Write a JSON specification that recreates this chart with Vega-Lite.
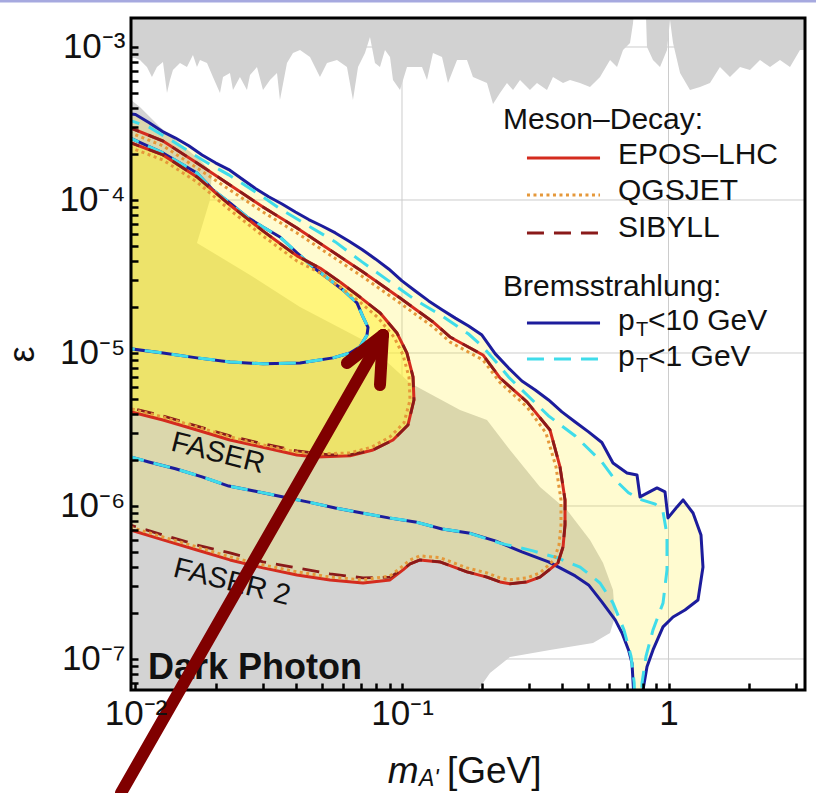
{
  "$schema": "https://vega.github.io/schema/vega-lite/v6.json",
  "width": 674,
  "height": 672,
  "autosize": "none",
  "padding": {"left": 131, "top": 18, "right": 11, "bottom": 103},
  "background": "white",
  "config": {"view": {"stroke": null}},
  "datasets": {
    "grid_y": [{"v": 1e-3}, {"v": 1e-4}, {"v": 1e-5}, {"v": 1e-6}, {"v": 1e-7}],
    "grid_x": [{"v": 0.1}, {"v": 1}],
    "gray_top": [
      {"x": 0.009, "y": 8.47e-4}, {"x": 0.009956, "y": 8.47e-4}, {"x": 0.01039, "y": 8.22e-4}, {"x": 0.01104, "y": 7.40e-4},
      {"x": 0.01153, "y": 6.36e-4}, {"x": 0.01204, "y": 7.40e-4}, {"x": 0.01268, "y": 7.98e-4}, {"x": 0.01313, "y": 5.0e-4},
      {"x": 0.01347, "y": 6.085e-4}, {"x": 0.01382, "y": 7.07e-4}, {"x": 0.01469, "y": 7.86e-4}, {"x": 0.0156, "y": 7.40e-4},
      {"x": 0.01643, "y": 8.87e-4}, {"x": 0.01701, "y": 7.40e-4}, {"x": 0.01746, "y": 8.22e-4}, {"x": 0.01855, "y": 7.86e-4},
      {"x": 0.01953, "y": 6.36e-4}, {"x": 0.02075, "y": 5.0e-4}, {"x": 0.0213, "y": 6.36e-4}, {"x": 0.02262, "y": 6.76e-4},
      {"x": 0.02322, "y": 5.235e-4}, {"x": 0.02466, "y": 6.36e-4}, {"x": 0.0262, "y": 5.235e-4}, {"x": 0.0269, "y": 6.56e-4},
      {"x": 0.02857, "y": 7.40e-4}, {"x": 0.03009, "y": 5.235e-4}, {"x": 0.03197, "y": 6.085e-4}, {"x": 0.03396, "y": 6.76e-4},
      {"x": 0.03484, "y": 4.504e-4}, {"x": 0.03702, "y": 7.86e-4}, {"x": 0.03899, "y": 9.14e-4}, {"x": 0.04143, "y": 9.56e-4},
      {"x": 0.04516, "y": 8.6e-4}, {"x": 0.04923, "y": 6.36e-4}, {"x": 0.05231, "y": 7.86e-4}, {"x": 0.05703, "y": 8.22e-4},
      {"x": 0.06216, "y": 7.40e-4}, {"x": 0.06547, "y": 4.504e-4}, {"x": 0.0684, "y": 7.40e-4}, {"x": 0.07263, "y": 9.14e-4},
      {"x": 0.07584, "y": 1.162e-3}, {"x": 0.07918, "y": 7.86e-4}, {"x": 0.08268, "y": 7.40e-4}, {"x": 0.08633, "y": 9.56e-4},
      {"x": 0.09016, "y": 8.6e-4}, {"x": 0.09252, "y": 6.085e-4}, {"x": 0.09829, "y": 5.235e-4}, {"x": 0.1044, "y": 7.40e-4},
      {"x": 0.1119, "y": 7.40e-4}, {"x": 0.1189, "y": 7.40e-4}, {"x": 0.1241, "y": 6.085e-4}, {"x": 0.1307, "y": 9.14e-4},
      {"x": 0.1413, "y": 8.6e-4}, {"x": 0.1488, "y": 5.82e-4}, {"x": 0.1609, "y": 8.22e-4}, {"x": 0.1753, "y": 8.22e-4},
      {"x": 0.1846, "y": 6.36e-4}, {"x": 0.2084, "y": 5.82e-4}, {"x": 0.2196, "y": 4.24e-4}, {"x": 0.2332, "y": 5.0e-4},
      {"x": 0.2477, "y": 5.82e-4}, {"x": 0.261, "y": 5.235e-4}, {"x": 0.2772, "y": 6.085e-4}, {"x": 0.3021, "y": 5.235e-4},
      {"x": 0.321, "y": 5.82e-4}, {"x": 0.35, "y": 5.235e-4}, {"x": 0.3686, "y": 6.36e-4}, {"x": 0.402, "y": 5.82e-4},
      {"x": 0.427, "y": 6.085e-4}, {"x": 0.4655, "y": 5.82e-4}, {"x": 0.5075, "y": 5.48e-4}, {"x": 0.5534, "y": 6.36e-4},
      {"x": 0.6034, "y": 8.22e-4}, {"x": 0.641, "y": 7.40e-4}, {"x": 0.6751, "y": 9.56e-4}, {"x": 0.7171, "y": 1.062e-3},
      {"x": 0.736, "y": 1.435e-3}, {"x": 0.7551, "y": 2.5e-3}, {"x": 0.8162, "y": 2.5e-3}, {"x": 0.8304, "y": 1.0e-3},
      {"x": 0.8746, "y": 8.22e-4}, {"x": 0.9292, "y": 7.40e-4}, {"x": 0.9871, "y": 9.56e-4}, {"x": 1.013, "y": 1.501e-3},
      {"x": 1.04, "y": 1.062e-3}, {"x": 1.105, "y": 6.76e-4}, {"x": 1.204, "y": 5.235e-4}, {"x": 1.313, "y": 5.48e-4},
      {"x": 1.431, "y": 5.82e-4}, {"x": 1.56, "y": 7.40e-4}, {"x": 1.701, "y": 6.36e-4}, {"x": 1.855, "y": 7.40e-4},
      {"x": 2.022, "y": 7.07e-4}, {"x": 2.204, "y": 8.22e-4}, {"x": 2.404, "y": 7.40e-4}, {"x": 2.62, "y": 8.22e-4},
      {"x": 2.857, "y": 7.40e-4}, {"x": 3.114, "y": 9.56e-4}, {"x": 3.4, "y": 9.56e-4}
    ],
    "gray_low": [
      {"x": 0.009, "y": 4.504e-4}, {"x": 0.009619, "y": 4.504e-4}, {"x": 0.01039, "y": 4.05e-4}, {"x": 0.01235, "y": 3.0e-4},
      {"x": 0.01746, "y": 1.826e-4}, {"x": 0.01936, "y": 1.52e-4}, {"x": 0.01903, "y": 1.0e-4}, {"x": 0.01701, "y": 5.24e-5},
      {"x": 0.0269, "y": 3.235e-5}, {"x": 0.04143, "y": 2.0e-5}, {"x": 0.0714, "y": 1.216e-5}, {"x": 0.1072, "y": 6.37e-6},
      {"x": 0.1651, "y": 4.242e-6}, {"x": 0.2084, "y": 3.649e-6}, {"x": 0.2542, "y": 2.324e-6}, {"x": 0.3295, "y": 1.33e-6},
      {"x": 0.416, "y": 9.42e-7}, {"x": 0.5075, "y": 6.0e-7}, {"x": 0.5677, "y": 4.25e-7}, {"x": 0.619, "y": 2.827e-7},
      {"x": 0.6299, "y": 1.88e-7}, {"x": 0.6034, "y": 1.48e-7}, {"x": 0.5208, "y": 1.27e-7}, {"x": 0.3591, "y": 1.146e-7},
      {"x": 0.2542, "y": 1.03e-7}, {"x": 0.2139, "y": 8.1e-8}, {"x": 0.1929, "y": 6.28e-8}, {"x": 0.18, "y": 4.64e-8},
      {"x": 0.009, "y": 4.64e-8}
    ],
    "faser2_region": [
      {"x": 0.009, "y": 3.70e-4}, {"x": 0.01, "y": 3.62e-4}, {"x": 0.01122, "y": 3.21e-4}, {"x": 0.01259, "y": 2.81e-4},
      {"x": 0.01413, "y": 2.54e-4}, {"x": 0.01585, "y": 2.26e-4}, {"x": 0.01778, "y": 1.97e-4}, {"x": 0.01995, "y": 1.75e-4},
      {"x": 0.02239, "y": 1.58e-4}, {"x": 0.02512, "y": 1.37e-4}, {"x": 0.02818, "y": 1.19e-4}, {"x": 0.03162, "y": 1.05e-4},
      {"x": 0.03548, "y": 9.42e-5}, {"x": 0.03981, "y": 8.35e-5}, {"x": 0.04467, "y": 7.45e-5}, {"x": 0.05012, "y": 6.76e-5},
      {"x": 0.05623, "y": 6.09e-5}, {"x": 0.0631, "y": 5.40e-5}, {"x": 0.07079, "y": 4.75e-5}, {"x": 0.07943, "y": 4.12e-5},
      {"x": 0.08913, "y": 3.54e-5}, {"x": 0.1, "y": 2.96e-5}, {"x": 0.1122, "y": 2.54e-5}, {"x": 0.1259, "y": 2.19e-5},
      {"x": 0.1413, "y": 1.92e-5}, {"x": 0.1585, "y": 1.69e-5}, {"x": 0.1778, "y": 1.50e-5}, {"x": 0.1995, "y": 1.31e-5},
      {"x": 0.2239, "y": 9.87e-6}, {"x": 0.2512, "y": 7.97e-6}, {"x": 0.2818, "y": 6.56e-6}, {"x": 0.3162, "y": 5.73e-6},
      {"x": 0.3548, "y": 4.93e-6}, {"x": 0.3981, "y": 4.12e-6}, {"x": 0.4467, "y": 3.54e-6}, {"x": 0.5012, "y": 3.05e-6},
      {"x": 0.5623, "y": 2.60e-6}, {"x": 0.619, "y": 1.91e-6}, {"x": 0.6985, "y": 1.645e-6}, {"x": 0.7618, "y": 1.595e-6},
      {"x": 0.7819, "y": 1.146e-6}, {"x": 0.9055, "y": 1.312e-6}, {"x": 0.9702, "y": 1.236e-6}, {"x": 0.9957, "y": 8.36e-7},
      {"x": 1.076, "y": 9.86e-7}, {"x": 1.134, "y": 1.095e-6}, {"x": 1.236, "y": 9.0e-7}, {"x": 1.324, "y": 6.47e-7},
      {"x": 1.347, "y": 3.99e-7}, {"x": 1.29, "y": 2.43e-7}, {"x": 1.153, "y": 2.09e-7}, {"x": 1.04, "y": 1.88e-7},
      {"x": 0.9537, "y": 1.62e-7}, {"x": 0.8746, "y": 1.146e-7}, {"x": 0.8304, "y": 8.9e-8}, {"x": 0.8023, "y": 6.28e-8},
      {"x": 0.7885, "y": 3.99e-8}, {"x": 0.7435, "y": 3.99e-8}, {"x": 0.7391, "y": 6.28e-8}, {"x": 0.7295, "y": 9.4e-8},
      {"x": 0.7079, "y": 1.146e-7}, {"x": 0.6692, "y": 1.48e-7}, {"x": 0.631, "y": 1.80e-7}, {"x": 0.5623, "y": 2.36e-7},
      {"x": 0.5012, "y": 3.05e-7}, {"x": 0.4467, "y": 3.49e-7}, {"x": 0.3847, "y": 4.25e-7}, {"x": 0.3295, "y": 3.43e-7},
      {"x": 0.2944, "y": 3.19e-7}, {"x": 0.2542, "y": 3.10e-7}, {"x": 0.2332, "y": 3.19e-7}, {"x": 0.2084, "y": 3.43e-7},
      {"x": 0.1753, "y": 3.71e-7}, {"x": 0.1389, "y": 4.31e-7}, {"x": 0.1168, "y": 4.44e-7}, {"x": 0.1072, "y": 4.18e-7},
      {"x": 0.1009, "y": 3.82e-7}, {"x": 0.09016, "y": 3.286e-7}, {"x": 0.0714, "y": 3.14e-7}, {"x": 0.05369, "y": 3.286e-7},
      {"x": 0.04036, "y": 3.543e-7}, {"x": 0.03009, "y": 3.94e-7}, {"x": 0.02262, "y": 4.44e-7}, {"x": 0.01701, "y": 5.16e-7},
      {"x": 0.01268, "y": 6.0e-7}, {"x": 0.009, "y": 7.2e-7}
    ],
    "faser_region": [
      {"x": 0.009, "y": 2.468e-4}, {"x": 0.01268, "y": 1.969e-4}, {"x": 0.01701, "y": 1.414e-4}, {"x": 0.02262, "y": 9.275e-5},
      {"x": 0.03009, "y": 6.27e-5}, {"x": 0.04036, "y": 4.31e-5}, {"x": 0.04923, "y": 3.59e-5}, {"x": 0.05852, "y": 2.91e-5},
      {"x": 0.06956, "y": 2.32e-5}, {"x": 0.08268, "y": 1.83e-5}, {"x": 0.09577, "y": 1.35e-5}, {"x": 0.1044, "y": 9.98e-6},
      {"x": 0.11, "y": 6.97e-6}, {"x": 0.1109, "y": 4.93e-6}, {"x": 0.1053, "y": 3.385e-6}, {"x": 0.09252, "y": 2.70e-6},
      {"x": 0.07784, "y": 2.324e-6}, {"x": 0.0638, "y": 2.13e-6}, {"x": 0.04799, "y": 2.09e-6}, {"x": 0.04036, "y": 2.155e-6},
      {"x": 0.03009, "y": 2.42e-6}, {"x": 0.02262, "y": 2.70e-6}, {"x": 0.01701, "y": 3.14e-6}, {"x": 0.01268, "y": 3.649e-6},
      {"x": 0.009, "y": 4.242e-6}
    ],
    "brem10": [
      {"c": "f2", "x": 0.009, "y": 3.70e-4}, {"c": "f2", "x": 0.01, "y": 3.62e-4}, {"c": "f2", "x": 0.01122, "y": 3.21e-4},
      {"c": "f2", "x": 0.01259, "y": 2.81e-4}, {"c": "f2", "x": 0.01413, "y": 2.54e-4}, {"c": "f2", "x": 0.01585, "y": 2.26e-4},
      {"c": "f2", "x": 0.01778, "y": 1.97e-4}, {"c": "f2", "x": 0.01995, "y": 1.75e-4}, {"c": "f2", "x": 0.02239, "y": 1.58e-4},
      {"c": "f2", "x": 0.02512, "y": 1.37e-4}, {"c": "f2", "x": 0.02818, "y": 1.19e-4}, {"c": "f2", "x": 0.03162, "y": 1.05e-4},
      {"c": "f2", "x": 0.03548, "y": 9.42e-5}, {"c": "f2", "x": 0.03981, "y": 8.35e-5}, {"c": "f2", "x": 0.04467, "y": 7.45e-5},
      {"c": "f2", "x": 0.05012, "y": 6.76e-5}, {"c": "f2", "x": 0.05623, "y": 6.09e-5}, {"c": "f2", "x": 0.0631, "y": 5.40e-5},
      {"c": "f2", "x": 0.07079, "y": 4.75e-5}, {"c": "f2", "x": 0.07943, "y": 4.12e-5}, {"c": "f2", "x": 0.08913, "y": 3.54e-5},
      {"c": "f2", "x": 0.1, "y": 2.96e-5}, {"c": "f2", "x": 0.1122, "y": 2.54e-5}, {"c": "f2", "x": 0.1259, "y": 2.19e-5},
      {"c": "f2", "x": 0.1413, "y": 1.92e-5}, {"c": "f2", "x": 0.1585, "y": 1.69e-5}, {"c": "f2", "x": 0.1778, "y": 1.50e-5},
      {"c": "f2", "x": 0.1995, "y": 1.31e-5}, {"c": "f2", "x": 0.2239, "y": 9.87e-6}, {"c": "f2", "x": 0.2512, "y": 7.97e-6},
      {"c": "f2", "x": 0.2818, "y": 6.56e-6}, {"c": "f2", "x": 0.3162, "y": 5.73e-6}, {"c": "f2", "x": 0.3548, "y": 4.93e-6},
      {"c": "f2", "x": 0.3981, "y": 4.12e-6}, {"c": "f2", "x": 0.4467, "y": 3.54e-6}, {"c": "f2", "x": 0.5012, "y": 3.05e-6},
      {"c": "f2", "x": 0.5623, "y": 2.60e-6}, {"c": "f2", "x": 0.619, "y": 1.91e-6}, {"c": "f2", "x": 0.6985, "y": 1.645e-6},
      {"c": "f2", "x": 0.7618, "y": 1.595e-6}, {"c": "f2", "x": 0.7819, "y": 1.146e-6}, {"c": "f2", "x": 0.9055, "y": 1.312e-6},
      {"c": "f2", "x": 0.9702, "y": 1.236e-6}, {"c": "f2", "x": 0.9957, "y": 8.36e-7}, {"c": "f2", "x": 1.076, "y": 9.86e-7},
      {"c": "f2", "x": 1.134, "y": 1.095e-6}, {"c": "f2", "x": 1.236, "y": 9.0e-7}, {"c": "f2", "x": 1.324, "y": 6.47e-7},
      {"c": "f2", "x": 1.347, "y": 3.99e-7}, {"c": "f2", "x": 1.29, "y": 2.43e-7}, {"c": "f2", "x": 1.153, "y": 2.09e-7},
      {"c": "f2", "x": 1.04, "y": 1.88e-7}, {"c": "f2", "x": 0.9537, "y": 1.62e-7}, {"c": "f2", "x": 0.8746, "y": 1.146e-7},
      {"c": "f2", "x": 0.8304, "y": 8.9e-8}, {"c": "f2", "x": 0.8023, "y": 6.28e-8}, {"c": "f2", "x": 0.7885, "y": 3.99e-8},
      {"c": "f2", "x": 0.7435, "y": 3.99e-8}, {"c": "f2", "x": 0.7391, "y": 6.28e-8}, {"c": "f2", "x": 0.7295, "y": 9.4e-8},
      {"c": "f2", "x": 0.7079, "y": 1.146e-7}, {"c": "f2", "x": 0.6692, "y": 1.48e-7}, {"c": "f2", "x": 0.631, "y": 1.80e-7},
      {"c": "f2", "x": 0.5623, "y": 2.36e-7}, {"c": "f2", "x": 0.5012, "y": 3.05e-7}, {"c": "f2", "x": 0.4467, "y": 3.49e-7},
      {"c": "f2", "x": 0.3548, "y": 4.31e-7}, {"c": "f2", "x": 0.2818, "y": 5.01e-7}, {"c": "f2", "x": 0.2239, "y": 5.91e-7},
      {"c": "f2", "x": 0.1778, "y": 6.67e-7}, {"c": "f2", "x": 0.1413, "y": 7.08e-7}, {"c": "f2", "x": 0.1122, "y": 7.87e-7},
      {"c": "f2", "x": 0.08913, "y": 8.36e-7}, {"c": "f2", "x": 0.07079, "y": 9.0e-7}, {"c": "f2", "x": 0.05623, "y": 9.7e-7},
      {"c": "f2", "x": 0.04467, "y": 1.06e-6}, {"c": "f2", "x": 0.03548, "y": 1.15e-6}, {"c": "f2", "x": 0.02818, "y": 1.25e-6},
      {"c": "f2", "x": 0.02239, "y": 1.35e-6}, {"c": "f2", "x": 0.01778, "y": 1.55e-6}, {"c": "f2", "x": 0.01413, "y": 1.75e-6},
      {"c": "f2", "x": 0.01122, "y": 1.94e-6}, {"c": "f2", "x": 0.009, "y": 2.16e-6},
      {"c": "f", "x": 0.009, "y": 2.66e-4}, {"c": "f", "x": 0.01268, "y": 2.03e-4}, {"c": "f", "x": 0.01469, "y": 1.746e-4},
      {"c": "f", "x": 0.01701, "y": 1.50e-4}, {"c": "f", "x": 0.01953, "y": 1.162e-4}, {"c": "f", "x": 0.02262, "y": 9.56e-5},
      {"c": "f", "x": 0.0262, "y": 7.74e-5}, {"c": "f", "x": 0.03009, "y": 6.66e-5}, {"c": "f", "x": 0.03484, "y": 5.73e-5},
      {"c": "f", "x": 0.04036, "y": 4.52e-5}, {"c": "f", "x": 0.04634, "y": 3.65e-5}, {"c": "f", "x": 0.05369, "y": 3.0e-5},
      {"c": "f", "x": 0.06006, "y": 2.581e-5}, {"c": "f", "x": 0.06777, "y": 2.124e-5}, {"c": "f", "x": 0.0714, "y": 1.72e-5},
      {"c": "f", "x": 0.07456, "y": 1.47e-5}, {"c": "f", "x": 0.07391, "y": 1.311e-5}, {"c": "f", "x": 0.06956, "y": 1.10e-5},
      {"c": "f", "x": 0.0638, "y": 1.0e-5}, {"c": "f", "x": 0.05508, "y": 9.29e-6}, {"c": "f", "x": 0.04143, "y": 8.6e-6},
      {"c": "f", "x": 0.03009, "y": 8.5e-6}, {"c": "f", "x": 0.02262, "y": 8.74e-6}, {"c": "f", "x": 0.01701, "y": 9.29e-6},
      {"c": "f", "x": 0.01268, "y": 1.0e-5}, {"c": "f", "x": 0.009, "y": 1.08e-5},
      {"c": "leg", "x": 0.2944, "y": 1.571e-5}, {"c": "leg", "x": 0.5534, "y": 1.571e-5}
    ],
    "brem1": [
      {"c": "f2", "x": 0.009, "y": 3.43e-4}, {"c": "f2", "x": 0.01122, "y": 3.0e-4}, {"c": "f2", "x": 0.01413, "y": 2.36e-4},
      {"c": "f2", "x": 0.01778, "y": 1.83e-4}, {"c": "f2", "x": 0.02239, "y": 1.46e-4}, {"c": "f2", "x": 0.02818, "y": 1.13e-4},
      {"c": "f2", "x": 0.03548, "y": 8.6e-5}, {"c": "f2", "x": 0.04467, "y": 6.76e-5}, {"c": "f2", "x": 0.05623, "y": 5.32e-5},
      {"c": "f2", "x": 0.07079, "y": 3.94e-5}, {"c": "f2", "x": 0.08913, "y": 2.96e-5}, {"c": "f2", "x": 0.1122, "y": 2.22e-5},
      {"c": "f2", "x": 0.1413, "y": 1.75e-5}, {"c": "f2", "x": 0.1778, "y": 1.33e-5}, {"c": "f2", "x": 0.1995, "y": 1.11e-5},
      {"c": "f2", "x": 0.2239, "y": 8.87e-6}, {"c": "f2", "x": 0.2512, "y": 6.97e-6}, {"c": "f2", "x": 0.2818, "y": 5.73e-6},
      {"c": "f2", "x": 0.3548, "y": 3.88e-6}, {"c": "f2", "x": 0.4467, "y": 2.87e-6}, {"c": "f2", "x": 0.5623, "y": 1.94e-6},
      {"c": "f2", "x": 0.631, "y": 1.48e-6}, {"c": "f2", "x": 0.7079, "y": 1.22e-6}, {"c": "f2", "x": 0.7943, "y": 1.095e-6},
      {"c": "f2", "x": 0.8913, "y": 1.03e-6}, {"c": "f2", "x": 0.9537, "y": 9.15e-7}, {"c": "f2", "x": 0.987, "y": 6.47e-7},
      {"c": "f2", "x": 0.987, "y": 3.82e-7}, {"c": "f2", "x": 0.9537, "y": 2.32e-7}, {"c": "f2", "x": 0.8746, "y": 1.549e-7},
      {"c": "f2", "x": 0.8233, "y": 1.04e-7}, {"c": "f2", "x": 0.7955, "y": 6.99e-8}, {"c": "f2", "x": 0.7885, "y": 3.99e-8},
      {"c": "f2", "x": 0.7485, "y": 3.99e-8}, {"c": "f2", "x": 0.7435, "y": 6.99e-8}, {"c": "f2", "x": 0.7234, "y": 1.04e-7},
      {"c": "f2", "x": 0.6808, "y": 1.549e-7}, {"c": "f2", "x": 0.619, "y": 2.32e-7}, {"c": "f2", "x": 0.5534, "y": 3.14e-7},
      {"c": "f2", "x": 0.4656, "y": 3.99e-7}, {"c": "f2", "x": 0.3818, "y": 4.59e-7}, {"c": "f2", "x": 0.3101, "y": 5.09e-7},
      {"c": "f2", "x": 0.2332, "y": 5.72e-7}, {"c": "f2", "x": 0.1778, "y": 6.67e-7}, {"c": "f2", "x": 0.1413, "y": 7.08e-7},
      {"c": "f2", "x": 0.1122, "y": 7.87e-7}, {"c": "f2", "x": 0.08913, "y": 8.36e-7}, {"c": "f2", "x": 0.07079, "y": 9.0e-7},
      {"c": "f2", "x": 0.05623, "y": 9.7e-7}, {"c": "f2", "x": 0.04467, "y": 1.06e-6}, {"c": "f2", "x": 0.03548, "y": 1.15e-6},
      {"c": "f2", "x": 0.02818, "y": 1.25e-6}, {"c": "f2", "x": 0.02239, "y": 1.35e-6}, {"c": "f2", "x": 0.01778, "y": 1.55e-6},
      {"c": "f2", "x": 0.01413, "y": 1.75e-6}, {"c": "f2", "x": 0.01122, "y": 1.94e-6}, {"c": "f2", "x": 0.009, "y": 2.16e-6},
      {"c": "f", "x": 0.009, "y": 2.66e-4}, {"c": "f", "x": 0.01268, "y": 2.03e-4}, {"c": "f", "x": 0.01469, "y": 1.746e-4},
      {"c": "f", "x": 0.01701, "y": 1.50e-4}, {"c": "f", "x": 0.01953, "y": 1.162e-4}, {"c": "f", "x": 0.02262, "y": 9.56e-5},
      {"c": "f", "x": 0.0262, "y": 7.74e-5}, {"c": "f", "x": 0.03009, "y": 6.66e-5}, {"c": "f", "x": 0.03484, "y": 5.73e-5},
      {"c": "f", "x": 0.04036, "y": 4.52e-5}, {"c": "f", "x": 0.04634, "y": 3.65e-5}, {"c": "f", "x": 0.05369, "y": 3.0e-5},
      {"c": "f", "x": 0.06006, "y": 2.581e-5}, {"c": "f", "x": 0.06777, "y": 2.124e-5}, {"c": "f", "x": 0.0714, "y": 1.72e-5},
      {"c": "f", "x": 0.07456, "y": 1.47e-5}, {"c": "f", "x": 0.07391, "y": 1.311e-5}, {"c": "f", "x": 0.06956, "y": 1.10e-5},
      {"c": "f", "x": 0.0638, "y": 1.0e-5}, {"c": "f", "x": 0.05508, "y": 9.29e-6}, {"c": "f", "x": 0.04143, "y": 8.6e-6},
      {"c": "f", "x": 0.03009, "y": 8.5e-6}, {"c": "f", "x": 0.02262, "y": 8.74e-6}, {"c": "f", "x": 0.01701, "y": 9.29e-6},
      {"c": "f", "x": 0.01268, "y": 1.0e-5}, {"c": "f", "x": 0.009, "y": 1.08e-5},
      {"c": "leg", "x": 0.2944, "y": 9.14e-6}, {"c": "leg", "x": 0.5534, "y": 9.14e-6}
    ],
    "epos": [
      {"c": "f2", "x": 0.009, "y": 3.09e-4}, {"c": "f2", "x": 0.01268, "y": 2.43e-4}, {"c": "f2", "x": 0.01701, "y": 1.746e-4},
      {"c": "f2", "x": 0.02262, "y": 1.253e-4}, {"c": "f2", "x": 0.03009, "y": 9.0e-5}, {"c": "f2", "x": 0.04036, "y": 6.56e-5},
      {"c": "f2", "x": 0.05369, "y": 4.712e-5}, {"c": "f2", "x": 0.0714, "y": 3.386e-5}, {"c": "f2", "x": 0.09829, "y": 2.29e-5},
      {"c": "f2", "x": 0.1307, "y": 1.596e-5}, {"c": "f2", "x": 0.1514, "y": 1.273e-5}, {"c": "f2", "x": 0.2013, "y": 9.705e-6},
      {"c": "f2", "x": 0.2332, "y": 6.87e-6}, {"c": "f2", "x": 0.2944, "y": 4.79e-6}, {"c": "f2", "x": 0.3591, "y": 3.14e-6},
      {"c": "f2", "x": 0.3917, "y": 1.80e-6}, {"c": "f2", "x": 0.409, "y": 1.095e-6}, {"c": "f2", "x": 0.409, "y": 7.52e-7},
      {"c": "f2", "x": 0.402, "y": 5.40e-7}, {"c": "f2", "x": 0.3847, "y": 4.25e-7}, {"c": "f2", "x": 0.3295, "y": 3.43e-7},
      {"c": "f2", "x": 0.2944, "y": 3.19e-7}, {"c": "f2", "x": 0.2542, "y": 3.10e-7}, {"c": "f2", "x": 0.2332, "y": 3.19e-7},
      {"c": "f2", "x": 0.2084, "y": 3.43e-7}, {"c": "f2", "x": 0.1753, "y": 3.71e-7}, {"c": "f2", "x": 0.1389, "y": 4.31e-7},
      {"c": "f2", "x": 0.1168, "y": 4.44e-7}, {"c": "f2", "x": 0.1072, "y": 4.18e-7}, {"c": "f2", "x": 0.1009, "y": 3.82e-7},
      {"c": "f2", "x": 0.09016, "y": 3.286e-7}, {"c": "f2", "x": 0.0714, "y": 3.14e-7}, {"c": "f2", "x": 0.05369, "y": 3.286e-7},
      {"c": "f2", "x": 0.04036, "y": 3.543e-7}, {"c": "f2", "x": 0.03009, "y": 3.94e-7}, {"c": "f2", "x": 0.02262, "y": 4.44e-7},
      {"c": "f2", "x": 0.01701, "y": 5.16e-7}, {"c": "f2", "x": 0.01268, "y": 6.0e-7}, {"c": "f2", "x": 0.009, "y": 7.2e-7},
      {"c": "f", "x": 0.009, "y": 2.468e-4}, {"c": "f", "x": 0.01268, "y": 1.969e-4}, {"c": "f", "x": 0.01701, "y": 1.414e-4},
      {"c": "f", "x": 0.02262, "y": 9.275e-5}, {"c": "f", "x": 0.03009, "y": 6.27e-5}, {"c": "f", "x": 0.04036, "y": 4.31e-5},
      {"c": "f", "x": 0.04923, "y": 3.59e-5}, {"c": "f", "x": 0.05852, "y": 2.91e-5}, {"c": "f", "x": 0.06956, "y": 2.32e-5},
      {"c": "f", "x": 0.08268, "y": 1.83e-5}, {"c": "f", "x": 0.09577, "y": 1.35e-5}, {"c": "f", "x": 0.1044, "y": 9.98e-6},
      {"c": "f", "x": 0.11, "y": 6.97e-6}, {"c": "f", "x": 0.1109, "y": 4.93e-6}, {"c": "f", "x": 0.1053, "y": 3.385e-6},
      {"c": "f", "x": 0.09252, "y": 2.70e-6}, {"c": "f", "x": 0.07784, "y": 2.324e-6}, {"c": "f", "x": 0.0638, "y": 2.13e-6},
      {"c": "f", "x": 0.04799, "y": 2.09e-6}, {"c": "f", "x": 0.04036, "y": 2.155e-6}, {"c": "f", "x": 0.03009, "y": 2.42e-6},
      {"c": "f", "x": 0.02262, "y": 2.70e-6}, {"c": "f", "x": 0.01701, "y": 3.14e-6}, {"c": "f", "x": 0.01268, "y": 3.649e-6},
      {"c": "f", "x": 0.009, "y": 4.242e-6},
      {"c": "leg", "x": 0.2944, "y": 1.882e-4}, {"c": "leg", "x": 0.5534, "y": 1.882e-4}
    ],
    "sibyll": [
      {"c": "f2", "x": 0.009, "y": 3.09e-4}, {"c": "f2", "x": 0.01268, "y": 2.43e-4}, {"c": "f2", "x": 0.01701, "y": 1.746e-4},
      {"c": "f2", "x": 0.02262, "y": 1.253e-4}, {"c": "f2", "x": 0.03009, "y": 9.0e-5}, {"c": "f2", "x": 0.04036, "y": 6.56e-5},
      {"c": "f2", "x": 0.05369, "y": 4.712e-5}, {"c": "f2", "x": 0.0714, "y": 3.386e-5}, {"c": "f2", "x": 0.09829, "y": 2.29e-5},
      {"c": "f2", "x": 0.1307, "y": 1.596e-5}, {"c": "f2", "x": 0.1514, "y": 1.273e-5}, {"c": "f2", "x": 0.2013, "y": 9.705e-6},
      {"c": "f2", "x": 0.2332, "y": 6.87e-6}, {"c": "f2", "x": 0.2944, "y": 4.79e-6}, {"c": "f2", "x": 0.3591, "y": 3.14e-6},
      {"c": "f2", "x": 0.3917, "y": 1.80e-6}, {"c": "f2", "x": 0.409, "y": 1.095e-6}, {"c": "f2", "x": 0.409, "y": 7.52e-7},
      {"c": "f2", "x": 0.402, "y": 5.40e-7}, {"c": "f2", "x": 0.3847, "y": 4.25e-7}, {"c": "f2", "x": 0.3295, "y": 3.43e-7},
      {"c": "f2", "x": 0.2944, "y": 3.19e-7}, {"c": "f2", "x": 0.2542, "y": 3.10e-7}, {"c": "f2", "x": 0.2332, "y": 3.19e-7},
      {"c": "f2", "x": 0.2084, "y": 3.43e-7}, {"c": "f2", "x": 0.1753, "y": 3.71e-7}, {"c": "f2", "x": 0.1389, "y": 4.31e-7},
      {"c": "f2", "x": 0.1168, "y": 4.44e-7}, {"c": "f2", "x": 0.1072, "y": 4.18e-7}, {"c": "f2", "x": 0.1009, "y": 3.88e-7},
      {"c": "f2", "x": 0.09016, "y": 3.43e-7}, {"c": "f2", "x": 0.0714, "y": 3.39e-7}, {"c": "f2", "x": 0.05369, "y": 3.60e-7},
      {"c": "f2", "x": 0.04036, "y": 3.94e-7}, {"c": "f2", "x": 0.03009, "y": 4.31e-7}, {"c": "f2", "x": 0.02262, "y": 4.93e-7},
      {"c": "f2", "x": 0.01701, "y": 5.56e-7}, {"c": "f2", "x": 0.01268, "y": 6.47e-7}, {"c": "f2", "x": 0.009, "y": 7.75e-7},
      {"c": "f", "x": 0.009, "y": 2.468e-4}, {"c": "f", "x": 0.01268, "y": 1.969e-4}, {"c": "f", "x": 0.01701, "y": 1.414e-4},
      {"c": "f", "x": 0.02262, "y": 9.275e-5}, {"c": "f", "x": 0.03009, "y": 6.27e-5}, {"c": "f", "x": 0.04036, "y": 4.31e-5},
      {"c": "f", "x": 0.04923, "y": 3.59e-5}, {"c": "f", "x": 0.05852, "y": 2.91e-5}, {"c": "f", "x": 0.06956, "y": 2.32e-5},
      {"c": "f", "x": 0.08268, "y": 1.83e-5}, {"c": "f", "x": 0.09577, "y": 1.35e-5}, {"c": "f", "x": 0.1044, "y": 9.98e-6},
      {"c": "f", "x": 0.11, "y": 6.97e-6}, {"c": "f", "x": 0.1109, "y": 4.93e-6}, {"c": "f", "x": 0.1053, "y": 3.385e-6},
      {"c": "f", "x": 0.09252, "y": 2.70e-6}, {"c": "f", "x": 0.07784, "y": 2.324e-6}, {"c": "f", "x": 0.0638, "y": 2.155e-6},
      {"c": "f", "x": 0.05369, "y": 2.155e-6}, {"c": "f", "x": 0.04036, "y": 2.29e-6}, {"c": "f", "x": 0.03009, "y": 2.55e-6},
      {"c": "f", "x": 0.02262, "y": 2.87e-6}, {"c": "f", "x": 0.01701, "y": 3.33e-6}, {"c": "f", "x": 0.01268, "y": 3.88e-6},
      {"c": "f", "x": 0.009, "y": 4.50e-6},
      {"c": "leg", "x": 0.2944, "y": 6.085e-5}, {"c": "leg", "x": 0.5534, "y": 6.085e-5}
    ],
    "qgsjet": [
      {"c": "f2", "x": 0.009, "y": 2.87e-4}, {"c": "f2", "x": 0.01268, "y": 2.26e-4}, {"c": "f2", "x": 0.01701, "y": 1.62e-4},
      {"c": "f2", "x": 0.02262, "y": 1.162e-4}, {"c": "f2", "x": 0.03009, "y": 8.35e-5}, {"c": "f2", "x": 0.04036, "y": 6.09e-5},
      {"c": "f2", "x": 0.05369, "y": 4.37e-5}, {"c": "f2", "x": 0.0714, "y": 3.14e-5}, {"c": "f2", "x": 0.09829, "y": 2.12e-5},
      {"c": "f2", "x": 0.1307, "y": 1.48e-5}, {"c": "f2", "x": 0.1514, "y": 1.18e-5}, {"c": "f2", "x": 0.2013, "y": 9.0e-6},
      {"c": "f2", "x": 0.2332, "y": 6.41e-6}, {"c": "f2", "x": 0.2944, "y": 4.44e-6}, {"c": "f2", "x": 0.3469, "y": 3.0e-6},
      {"c": "f2", "x": 0.3783, "y": 1.80e-6}, {"c": "f2", "x": 0.395, "y": 1.095e-6}, {"c": "f2", "x": 0.395, "y": 7.52e-7},
      {"c": "f2", "x": 0.3882, "y": 5.56e-7}, {"c": "f2", "x": 0.3718, "y": 4.44e-7}, {"c": "f2", "x": 0.3295, "y": 3.65e-7},
      {"c": "f2", "x": 0.2944, "y": 3.39e-7}, {"c": "f2", "x": 0.2542, "y": 3.29e-7}, {"c": "f2", "x": 0.2332, "y": 3.39e-7},
      {"c": "f2", "x": 0.2084, "y": 3.65e-7}, {"c": "f2", "x": 0.1753, "y": 3.94e-7}, {"c": "f2", "x": 0.1389, "y": 4.59e-7},
      {"c": "f2", "x": 0.1168, "y": 4.72e-7}, {"c": "f2", "x": 0.1072, "y": 4.44e-7}, {"c": "f2", "x": 0.1009, "y": 4.06e-7},
      {"c": "f2", "x": 0.09016, "y": 3.49e-7}, {"c": "f2", "x": 0.0714, "y": 3.29e-7}, {"c": "f2", "x": 0.05369, "y": 3.43e-7},
      {"c": "f2", "x": 0.04036, "y": 3.71e-7}, {"c": "f2", "x": 0.03009, "y": 4.12e-7}, {"c": "f2", "x": 0.02262, "y": 4.65e-7},
      {"c": "f2", "x": 0.01701, "y": 5.40e-7}, {"c": "f2", "x": 0.01268, "y": 6.27e-7}, {"c": "f2", "x": 0.009, "y": 7.52e-7},
      {"c": "f", "x": 0.009, "y": 2.289e-4}, {"c": "f", "x": 0.01268, "y": 1.826e-4}, {"c": "f", "x": 0.01701, "y": 1.31e-4},
      {"c": "f", "x": 0.02262, "y": 8.6e-5}, {"c": "f", "x": 0.03009, "y": 5.82e-5}, {"c": "f", "x": 0.04036, "y": 3.99e-5},
      {"c": "f", "x": 0.04923, "y": 3.34e-5}, {"c": "f", "x": 0.05852, "y": 2.70e-5}, {"c": "f", "x": 0.06956, "y": 2.15e-5},
      {"c": "f", "x": 0.08128, "y": 1.70e-5}, {"c": "f", "x": 0.09333, "y": 1.27e-5}, {"c": "f", "x": 0.1009, "y": 9.7e-6},
      {"c": "f", "x": 0.1062, "y": 6.97e-6}, {"c": "f", "x": 0.1072, "y": 4.93e-6}, {"c": "f", "x": 0.1017, "y": 3.49e-6},
      {"c": "f", "x": 0.09016, "y": 2.83e-6}, {"c": "f", "x": 0.07716, "y": 2.43e-6}, {"c": "f", "x": 0.0638, "y": 2.22e-6},
      {"c": "f", "x": 0.04799, "y": 2.19e-6}, {"c": "f", "x": 0.04036, "y": 2.25e-6}, {"c": "f", "x": 0.03009, "y": 2.505e-6},
      {"c": "f", "x": 0.02262, "y": 2.83e-6}, {"c": "f", "x": 0.01701, "y": 3.29e-6}, {"c": "f", "x": 0.01268, "y": 3.82e-6},
      {"c": "f", "x": 0.009, "y": 4.44e-6},
      {"c": "leg", "x": 0.2944, "y": 1.078e-4}, {"c": "leg", "x": 0.5534, "y": 1.078e-4}
    ],
    "region_labels": [
      {"t": "FASER", "x": 0.0204, "y": 2.22e-6},
      {"t": "FASER 2", "x": 0.02302, "y": 3.186e-7}
    ],
    "panel_label": [{"t": "Dark Photon", "x": 0.01114, "y": 7.40e-8}],
    "legend_text": [
      {"t": "Meson–Decay:", "x": 0.2393, "y": 2.911e-4},
      {"t": "EPOS–LHC", "x": 0.6462, "y": 1.719e-4},
      {"t": "QGSJET", "x": 0.6462, "y": 1.0e-4},
      {"t": "SIBYLL", "x": 0.6462, "y": 5.73e-5},
      {"t": "Bremsstrahlung:", "x": 0.2393, "y": 2.358e-5},
      {"t": "p", "x": 0.6462, "y": 1.414e-5},
      {"t": "<10 GeV", "x": 0.8378, "y": 1.414e-5},
      {"t": "p", "x": 0.6462, "y": 8.22e-6},
      {"t": "<1 GeV", "x": 0.8378, "y": 8.22e-6}
    ],
    "legend_sub": [
      {"t": "T", "x": 0.7551, "y": 1.291e-5},
      {"t": "T", "x": 0.7551, "y": 7.51e-6}
    ],
    "xtitle_main": [{"t": "m", "x": 0.0885, "y": 1.547e-8}],
    "xtitle_sub": [{"t": "A'", "x": 0.1158, "y": 1.479e-8}],
    "xtitle_unit": [{"t": "[GeV]", "x": 0.1475, "y": 1.547e-8}],
    "frame": [{"x0": 0.00962, "x1": 3.252, "y0": 6.27e-8, "y1": 1.547e-3}],
    "arrow": [
      {"x": 0.008822, "y": 1.331e-8, "x2": 0.08485, "y2": 1.311e-5},
      {"x": 0.06216, "y": 8.6e-6, "x2": 0.08485, "y2": 1.311e-5},
      {"x": 0.08268, "y": 6.18e-6, "x2": 0.08485, "y2": 1.311e-5}
    ],
    "topbar": [{"x": 0.003102, "x2": 3.577, "y": 2.03e-3}]
  },
  "layer": [
    {
      "data": {"name": "grid_y"},
      "mark": {"type": "rule", "stroke": "#cccccc", "strokeWidth": 1},
      "encoding": {"y": {"field": "v", "type": "quantitative"}}
    },
    {
      "data": {"name": "grid_x"},
      "mark": {"type": "rule", "stroke": "#cccccc", "strokeWidth": 1},
      "encoding": {"x": {"field": "v", "type": "quantitative"}}
    },
    {
      "data": {"name": "gray_top"},
      "mark": {"type": "area", "color": "#d2d2d2", "clip": true},
      "encoding": {
        "x": {
          "field": "x", "type": "quantitative",
          "scale": {"type": "log", "domain": [0.00962, 3.252], "nice": false},
          "axis": {
            "orient": "bottom",
            "values": [0.01, 0.02, 0.03, 0.04, 0.05, 0.06, 0.07, 0.08, 0.09, 0.1, 0.2, 0.3, 0.4, 0.5, 0.6, 0.7, 0.8, 0.9, 1, 2, 3],
            "labelExpr": "datum.value === 0.01 ? '10⁻²' : datum.value === 0.1 ? '10⁻¹' : datum.value === 1 ? '1' : ''",
            "domain": false, "grid": false, "ticks": true,
            "tickSize": -7, "tickWidth": 2.5, "tickColor": "#000",
            "labelFont": "Liberation Sans", "labelFontSize": 35, "labelColor": "#111",
            "labelPadding": 13, "labelOverlap": false, "labelFlush": false, "labelBound": false,
            "title": null, "zindex": 1
          }
        },
        "y": {
          "field": "y", "type": "quantitative",
          "scale": {"type": "log", "domain": [6.27e-8, 1.547e-3], "nice": false},
          "axis": {
            "orient": "left",
            "values": [7e-8, 8e-8, 9e-8, 1e-7, 2e-7, 3e-7, 4e-7, 5e-7, 6e-7, 7e-7, 8e-7, 9e-7, 1e-6, 2e-6, 3e-6, 4e-6, 5e-6, 6e-6, 7e-6, 8e-6, 9e-6, 1e-5, 2e-5, 3e-5, 4e-5, 5e-5, 6e-5, 7e-5, 8e-5, 9e-5, 1e-4, 2e-4, 3e-4, 4e-4, 5e-4, 6e-4, 7e-4, 8e-4, 9e-4, 1e-3],
            "labelExpr": "datum.value === 0.001 ? '10⁻³' : datum.value === 0.0001 ? '10⁻⁴' : datum.value === 0.00001 ? '10⁻⁵' : datum.value === 0.000001 ? '10⁻⁶' : datum.value === 0.0000001 ? '10⁻⁷' : ''",
            "domain": false, "grid": false, "ticks": true,
            "tickSize": -7, "tickWidth": 2.5, "tickColor": "#000",
            "labelFont": "Liberation Sans", "labelFontSize": 35, "labelColor": "#111",
            "labelPadding": 13, "labelOverlap": false, "labelFlush": false, "labelBound": false,
            "title": "ε", "titleFont": "Liberation Sans", "titleFontSize": 36, "titleFontWeight": "normal",
            "titleColor": "#111", "titlePadding": 18, "zindex": 1
          }
        },
        "y2": {"datum": 0.0025}
      }
    },
    {
      "data": {"name": "gray_low"},
      "mark": {"type": "line", "fill": "#d3d3d3", "stroke": "transparent", "strokeWidth": 0, "clip": true},
      "encoding": {
        "x": {"field": "x", "type": "quantitative"},
        "y": {"field": "y", "type": "quantitative"},
        "order": {"value": null}
      }
    },
    {
      "data": {"name": "faser2_region"},
      "mark": {"type": "line", "fill": "#ffeb14", "fillOpacity": 0.2, "stroke": "transparent", "strokeWidth": 0, "clip": true},
      "encoding": {
        "x": {"field": "x", "type": "quantitative"},
        "y": {"field": "y", "type": "quantitative"},
        "order": {"value": null}
      }
    },
    {
      "data": {"name": "faser_region"},
      "mark": {"type": "line", "fill": "#fff028", "fillOpacity": 0.5, "stroke": "transparent", "strokeWidth": 0, "clip": true},
      "encoding": {
        "x": {"field": "x", "type": "quantitative"},
        "y": {"field": "y", "type": "quantitative"},
        "order": {"value": null}
      }
    },
    {
      "data": {"name": "brem10"},
      "mark": {"type": "line", "stroke": "#1c1c9c", "strokeWidth": 3, "strokeJoin": "round", "clip": true},
      "encoding": {
        "x": {"field": "x", "type": "quantitative"},
        "y": {"field": "y", "type": "quantitative"},
        "detail": {"field": "c", "type": "nominal"},
        "order": {"value": null}
      }
    },
    {
      "data": {"name": "brem1"},
      "mark": {"type": "line", "stroke": "#3fdcea", "strokeWidth": 3, "strokeDash": [17, 10], "clip": true},
      "encoding": {
        "x": {"field": "x", "type": "quantitative"},
        "y": {"field": "y", "type": "quantitative"},
        "detail": {"field": "c", "type": "nominal"},
        "order": {"value": null}
      }
    },
    {
      "data": {"name": "epos"},
      "mark": {"type": "line", "stroke": "#d42b1e", "strokeWidth": 3, "strokeJoin": "round", "clip": true},
      "encoding": {
        "x": {"field": "x", "type": "quantitative"},
        "y": {"field": "y", "type": "quantitative"},
        "detail": {"field": "c", "type": "nominal"},
        "order": {"value": null}
      }
    },
    {
      "data": {"name": "sibyll"},
      "mark": {"type": "line", "stroke": "#8a1a1a", "strokeWidth": 2.8, "strokeDash": [17, 10], "clip": true},
      "encoding": {
        "x": {"field": "x", "type": "quantitative"},
        "y": {"field": "y", "type": "quantitative"},
        "detail": {"field": "c", "type": "nominal"},
        "order": {"value": null}
      }
    },
    {
      "data": {"name": "qgsjet"},
      "mark": {"type": "line", "stroke": "#e5983a", "strokeWidth": 3, "strokeDash": [3, 3.5], "clip": true},
      "encoding": {
        "x": {"field": "x", "type": "quantitative"},
        "y": {"field": "y", "type": "quantitative"},
        "detail": {"field": "c", "type": "nominal"},
        "order": {"value": null}
      }
    },
    {
      "data": {"name": "region_labels"},
      "mark": {"type": "text", "font": "Liberation Sans", "fontSize": 29, "angle": 14, "align": "center", "baseline": "middle", "color": "#111"},
      "encoding": {
        "x": {"field": "x", "type": "quantitative"},
        "y": {"field": "y", "type": "quantitative"},
        "text": {"field": "t"}
      }
    },
    {
      "data": {"name": "panel_label"},
      "mark": {"type": "text", "font": "Liberation Sans", "fontSize": 36, "fontWeight": "bold", "align": "left", "baseline": "alphabetic", "color": "#111"},
      "encoding": {
        "x": {"field": "x", "type": "quantitative"},
        "y": {"field": "y", "type": "quantitative"},
        "text": {"field": "t"}
      }
    },
    {
      "data": {"name": "legend_text"},
      "mark": {"type": "text", "font": "Liberation Sans", "fontSize": 30, "align": "left", "baseline": "alphabetic", "color": "#111"},
      "encoding": {
        "x": {"field": "x", "type": "quantitative"},
        "y": {"field": "y", "type": "quantitative"},
        "text": {"field": "t"}
      }
    },
    {
      "data": {"name": "legend_sub"},
      "mark": {"type": "text", "font": "Liberation Sans", "fontSize": 20, "align": "left", "baseline": "alphabetic", "color": "#111"},
      "encoding": {
        "x": {"field": "x", "type": "quantitative"},
        "y": {"field": "y", "type": "quantitative"},
        "text": {"field": "t"}
      }
    },
    {
      "data": {"name": "xtitle_main"},
      "mark": {"type": "text", "font": "Liberation Sans", "fontSize": 37, "fontStyle": "italic", "align": "left", "baseline": "alphabetic", "color": "#111", "clip": false},
      "encoding": {
        "x": {"field": "x", "type": "quantitative"},
        "y": {"field": "y", "type": "quantitative"},
        "text": {"field": "t"}
      }
    },
    {
      "data": {"name": "xtitle_sub"},
      "mark": {"type": "text", "font": "Liberation Sans", "fontSize": 23, "fontStyle": "italic", "align": "left", "baseline": "alphabetic", "color": "#111", "clip": false},
      "encoding": {
        "x": {"field": "x", "type": "quantitative"},
        "y": {"field": "y", "type": "quantitative"},
        "text": {"field": "t"}
      }
    },
    {
      "data": {"name": "xtitle_unit"},
      "mark": {"type": "text", "font": "Liberation Sans", "fontSize": 37, "align": "left", "baseline": "alphabetic", "color": "#111", "clip": false},
      "encoding": {
        "x": {"field": "x", "type": "quantitative"},
        "y": {"field": "y", "type": "quantitative"},
        "text": {"field": "t"}
      }
    },
    {
      "data": {"name": "frame"},
      "mark": {"type": "rect", "filled": false, "stroke": "#000", "strokeWidth": 3, "clip": false},
      "encoding": {
        "x": {"field": "x0", "type": "quantitative"},
        "x2": {"field": "x1"},
        "y": {"field": "y0", "type": "quantitative"},
        "y2": {"field": "y1"}
      }
    },
    {
      "data": {"name": "arrow"},
      "mark": {"type": "rule", "stroke": "#800000", "strokeWidth": 12, "strokeCap": "round", "clip": false},
      "encoding": {
        "x": {"field": "x", "type": "quantitative"},
        "y": {"field": "y", "type": "quantitative"},
        "x2": {"field": "x2"},
        "y2": {"field": "y2"}
      }
    },
    {
      "data": {"name": "topbar"},
      "mark": {"type": "rule", "stroke": "#a6a9df", "strokeWidth": 5, "clip": false},
      "encoding": {
        "x": {"field": "x", "type": "quantitative"},
        "x2": {"field": "x2"},
        "y": {"field": "y", "type": "quantitative"}
      }
    }
  ]
}
